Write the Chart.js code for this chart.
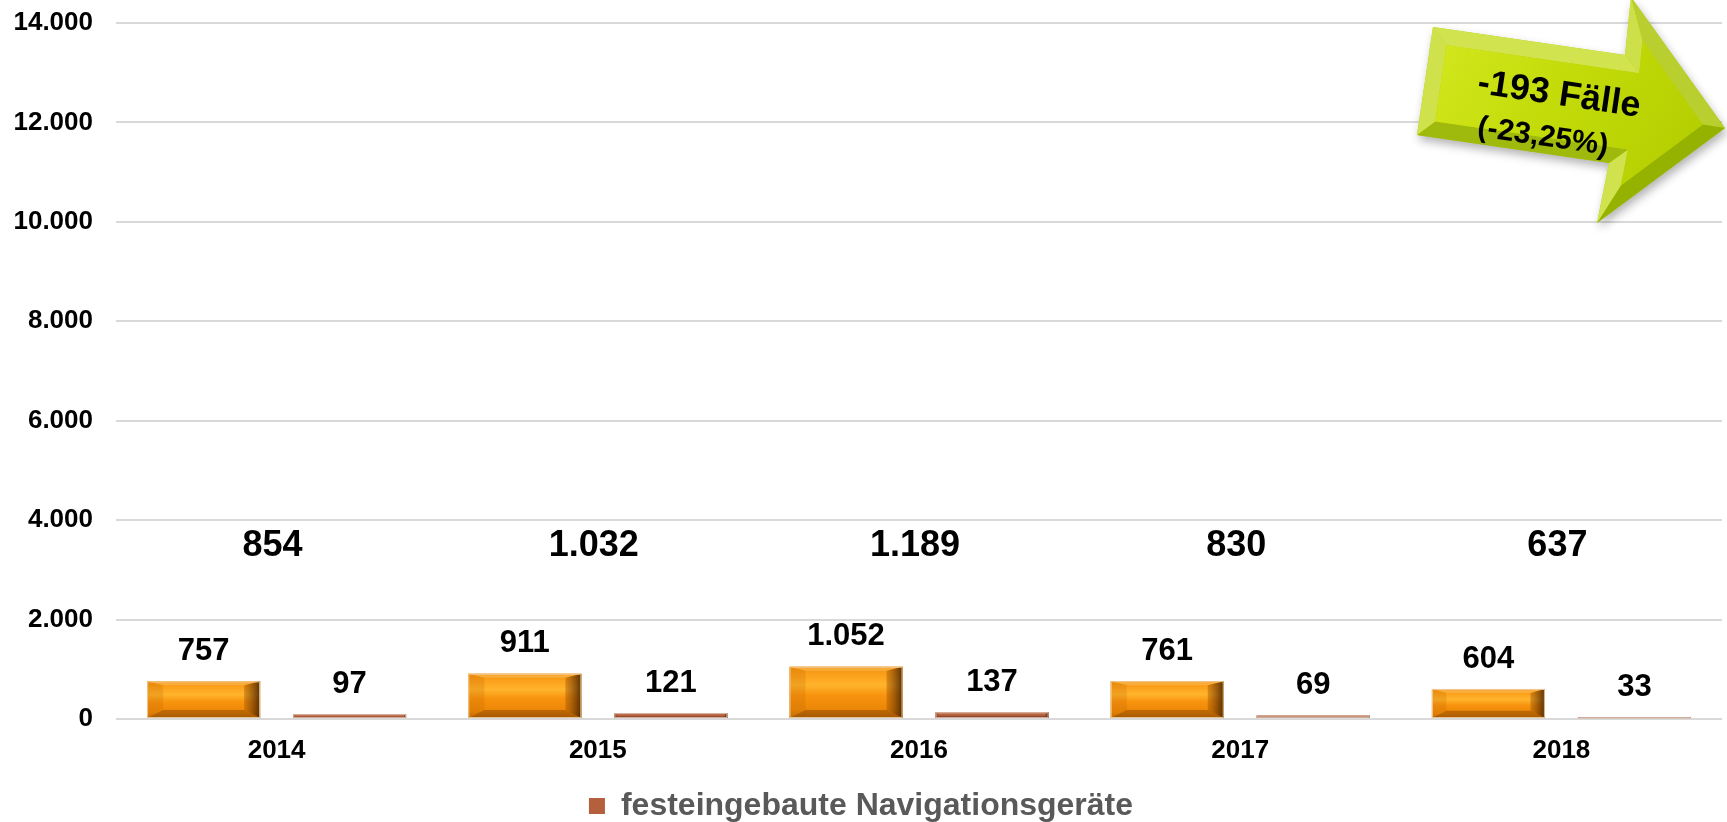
<!DOCTYPE html>
<html>
<head>
<meta charset="utf-8">
<script src="https://cdn.jsdelivr.net/npm/chart.js@4.4.0/dist/chart.umd.min.js"></script>
<style>
html,body{margin:0;padding:0;background:#fff;overflow:hidden}
#wrap{width:1727px;height:822px;position:relative}
</style>
</head>
<body>
<div id="wrap"><canvas id="c" width="1727" height="822"></canvas></div>
<script>
// ---- data ----
const categories = ['2014', '2015', '2016', '2017', '2018'];
const seriesNames = ['mobile Navigationsgeräte', 'festeingebaute Navigationsgeräte'];
const mobileValues = [757, 911, 1052, 761, 604];
const fixedValues = [97, 121, 137, 69, 33];
const totalValues = [854, 1032, 1189, 830, 637];
const yTickValues = [0, 2000, 4000, 6000, 8000, 10000, 12000, 14000];
const calloutLines = ['-193 Fälle', '(-23,25%)'];

// ---- styling ----
const FONT = '"Liberation Sans", Arial, Helvetica, sans-serif';
const fmt = n => String(n).replace(/\B(?=(\d{3})+(?!\d))/g, '.');

const palettes = [
  { base: '#F7900C',
    stops: [[0, '#F3940F'], [0.18, '#FCA21C'], [0.36, '#FFB42C'], [0.56, '#F8930E'], [0.85, '#EA8607'], [1, '#C06E05']],
    top: 'rgba(255,205,130,0.35)', left: 'rgba(190,100,0,0.22)',
    rightIn: 'rgba(150,75,0,0.35)', rightOut: 'rgba(60,30,0,0.85)',
    bottom: 'rgba(130,65,0,0.45)', edge: 'rgba(240,205,160,0.9)' },
  { base: '#B4603C',
    stops: [[0, '#C2714E'], [0.5, '#B4603C'], [1, '#8E4428']],
    top: 'rgba(220,160,130,0.4)', left: 'rgba(120,50,20,0.25)',
    rightIn: 'rgba(90,35,15,0.4)', rightOut: 'rgba(50,18,5,0.8)',
    bottom: 'rgba(90,35,15,0.45)', edge: 'rgba(215,185,170,0.9)' }
];

function poly(ctx, pts, fill) {
  ctx.beginPath();
  pts.forEach((p, i) => i ? ctx.lineTo(p[0], p[1]) : ctx.moveTo(p[0], p[1]));
  ctx.closePath();
  ctx.fillStyle = fill;
  ctx.fill();
}

const bevelPlugin = {
  id: 'bevel',
  afterDatasetsDraw(chart) {
    const ctx = chart.ctx;
    chart.data.datasets.forEach((ds, di) => {
      const meta = chart.getDatasetMeta(di);
      const pal = palettes[di];
      meta.data.forEach(el => {
        const p = el.getProps(['x', 'y', 'base', 'width'], true);
        const l = p.x - p.width / 2, r = p.x + p.width / 2;
        const t = Math.min(p.y, p.base), b = Math.max(p.y, p.base);
        const h = b - t;
        if (h <= 0) return;
        ctx.save();
        const g = ctx.createLinearGradient(0, t, 0, b);
        pal.stops.forEach(s => g.addColorStop(s[0], s[1]));
        ctx.fillStyle = g;
        ctx.fillRect(l, t, r - l, h);
        const bx = Math.min(16, h / 2);
        const bt = Math.min(4, h / 4);
        const bb = Math.min(8, h / 4);
        const il = l + bx, ir = r - bx, it = t + bt, ib = b - bb;
        poly(ctx, [[l, t], [r, t], [ir, it], [il, it]], pal.top);
        poly(ctx, [[l, b], [r, b], [ir, ib], [il, ib]], pal.bottom);
        poly(ctx, [[l, t], [il, it], [il, ib], [l, b]], pal.left);
        const rg = ctx.createLinearGradient(ir, 0, r, 0);
        rg.addColorStop(0, pal.rightIn);
        rg.addColorStop(1, pal.rightOut);
        poly(ctx, [[r, t], [ir, it], [ir, ib], [r, b]], rg);
        ctx.strokeStyle = pal.edge;
        ctx.lineWidth = 1;
        ctx.strokeRect(l + 0.5, t + 0.5, r - l - 1, Math.max(h - 1, 0));
        ctx.restore();
      });
    });
  }
};

const labelPlugin = {
  id: 'valueLabels',
  afterDatasetsDraw(chart) {
    const ctx = chart.ctx;
    ctx.save();
    ctx.fillStyle = '#000';
    ctx.textAlign = 'center';
    ctx.textBaseline = 'middle';
    ctx.font = 'bold 31px ' + FONT;
    chart.data.datasets.forEach((ds, di) => {
      const meta = chart.getDatasetMeta(di);
      meta.data.forEach((el, i) => {
        const p = el.getProps(['x', 'y'], true);
        ctx.fillText(fmt(ds.data[i]), p.x, p.y - 30);
      });
    });
    // totals row
    const xs = chart.scales.x, ys = chart.scales.y;
    ctx.font = 'bold 36px ' + FONT;
    const ty = ys.getPixelForValue(3470);
    totalValues.forEach((v, i) => {
      ctx.fillText(fmt(v), xs.getPixelForValue(i) - 4, ty);
    });
    ctx.restore();
  }
};

function offsetPolygon(P, d) {
  const n = P.length;
  const lines = [];
  for (let i = 0; i < n; i++) {
    const a = P[i], b = P[(i + 1) % n];
    const dx = b[0] - a[0], dy = b[1] - a[1];
    const len = Math.hypot(dx, dy);
    const nx = -dy / len, ny = dx / len;
    lines.push({ p: [a[0] + nx * d, a[1] + ny * d], e: [dx, dy], n: [nx, ny] });
  }
  const Q = [];
  for (let i = 0; i < n; i++) {
    const L1 = lines[(i - 1 + n) % n], L2 = lines[i];
    const den = L1.e[0] * L2.e[1] - L1.e[1] * L2.e[0];
    const wx = L2.p[0] - L1.p[0], wy = L2.p[1] - L1.p[1];
    const tt = (wx * L2.e[1] - wy * L2.e[0]) / den;
    Q.push([L1.p[0] + L1.e[0] * tt, L1.p[1] + L1.e[1] * tt]);
  }
  return { Q, lines };
}

function mix(c1, c2, f) {
  const r = Math.round(c1[0] + (c2[0] - c1[0]) * f);
  const g = Math.round(c1[1] + (c2[1] - c1[1]) * f);
  const b = Math.round(c1[2] + (c2[2] - c1[2]) * f);
  return `rgb(${r},${g},${b})`;
}

const arrowPlugin = {
  id: 'callout',
  afterDraw(chart) {
    const ctx = chart.ctx;
    const P = [[1433, 27], [1625, 55], [1631, -3], [1725, 128], [1597, 223], [1609, 163], [1417, 135]];
    ctx.save();
    ctx.shadowColor = 'rgba(0,0,0,0.3)';
    ctx.shadowBlur = 10;
    ctx.shadowOffsetX = 2;
    ctx.shadowOffsetY = 5;
    poly(ctx, P, '#B8D000');
    ctx.shadowColor = 'transparent';
    const { Q, lines } = offsetPolygon(P, 16);
    const light = [-0.55, -0.83];
    const dark = [150, 178, 0], bright = [218, 234, 90];
    for (let i = 0; i < P.length; i++) {
      const j = (i + 1) % P.length;
      const on = [-lines[i].n[0], -lines[i].n[1]];
      const dot = on[0] * light[0] + on[1] * light[1];
      const f = (dot + 1) / 2;
      poly(ctx, [P[i], P[j], Q[j], Q[i]], mix(dark, bright, f));
    }
    const g = ctx.createLinearGradient(1430, 40, 1680, 200);
    g.addColorStop(0, '#D3E81E');
    g.addColorStop(0.5, '#C2DA08');
    g.addColorStop(1, '#B2CD00');
    poly(ctx, Q, g);
    ctx.translate(1550, 116);
    ctx.rotate(0.145);
    ctx.fillStyle = '#000';
    ctx.textAlign = 'center';
    ctx.textBaseline = 'middle';
    ctx.font = 'bold 36px ' + FONT;
    ctx.fillText(calloutLines[0], 6, -22);
    ctx.font = 'bold 30px ' + FONT;
    ctx.fillText(calloutLines[1], -4, 22);
    ctx.restore();
  }
};

new Chart(document.getElementById('c'), {
  type: 'bar',
  data: {
    labels: categories,
    datasets: [
      { label: seriesNames[0], data: mobileValues, backgroundColor: palettes[0].base, borderWidth: 0,
        barPercentage: 0.774, categoryPercentage: 0.909 },
      { label: seriesNames[1], data: fixedValues, backgroundColor: palettes[1].base, borderWidth: 0,
        barPercentage: 0.774, categoryPercentage: 0.909 }
    ]
  },
  options: {
    responsive: false,
    animation: false,
    devicePixelRatio: 1,
    layout: { padding: { top: 23, right: 5, left: 0, bottom: -10 } },
    scales: {
      x: {
        grid: { display: false },
        border: { display: false },
        ticks: { color: '#000', font: { family: FONT, size: 26, weight: 'bold' }, padding: 8 },
        afterFit: s => { s.height = 69; s.paddingLeft = 0; s.paddingRight = 0; }
      },
      y: {
        min: 0, max: 14000,
        afterBuildTicks: s => { s.ticks = yTickValues.map(v => ({ value: v })); },
        grid: { color: '#D9D9D9', lineWidth: 2, drawTicks: false },
        border: { display: false },
        ticks: { color: '#000', font: { family: FONT, size: 26, weight: 'bold' }, padding: 23,
                 callback: v => fmt(v) },
        afterFit: s => { s.width = 116; s.paddingTop = 0; s.paddingBottom = 0; }
      }
    },
    plugins: {
      legend: {
        position: 'bottom',
        labels: {
          filter: it => it.datasetIndex === 1,
          boxWidth: 16, boxHeight: 16, padding: 2,
          color: '#595959',
          font: { family: FONT, size: 32, weight: 'bold' }
        }
      },
      tooltip: { enabled: false }
    }
  },
  plugins: [bevelPlugin, labelPlugin, arrowPlugin]
});
</script>
</body>
</html>
